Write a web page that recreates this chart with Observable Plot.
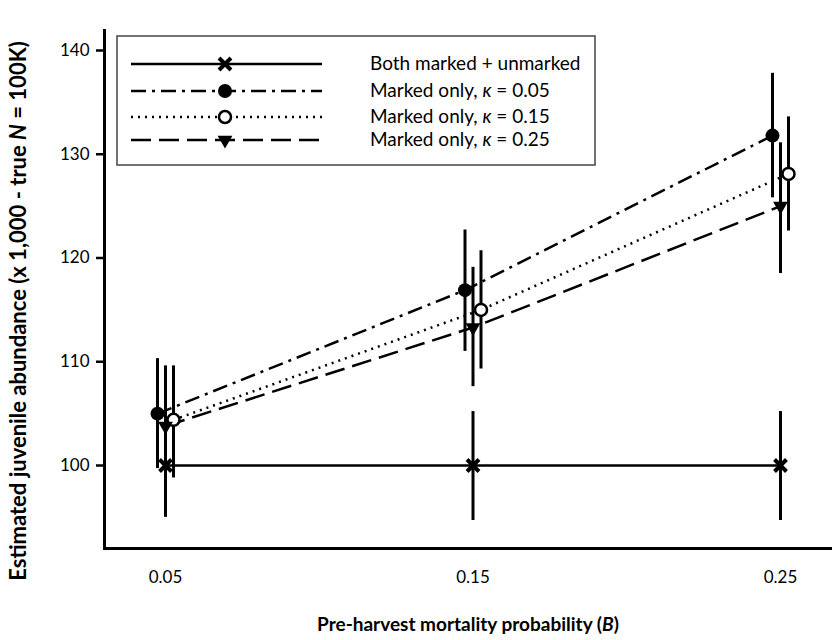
<!DOCTYPE html>
<html>
<head>
<meta charset="utf-8">
<script src="https://cdn.jsdelivr.net/npm/d3@7"></script>
<script src="https://cdn.jsdelivr.net/npm/@observablehq/plot@0.6"></script>
<style>
  html, body { margin: 0; padding: 0; background: #fff; }
  #chart svg { display: block; }
  #chart svg g[aria-label="x-axis tick label"] text,
  #chart svg g[aria-label="y-axis tick label"] text { font-size: 17px; }
</style>
</head>
<body>
<div id="chart"></div>
<script>
// ---- data ----
const B = [0.05, 0.15, 0.25];
const seriesLabels = ["Both marked + unmarked", "Marked only, κ = 0.05", "Marked only, κ = 0.15", "Marked only, κ = 0.25"];
const meanBoth = [100.0, 100.0, 100.0];
const loBoth   = [95.0, 94.7, 94.7];
const hiBoth   = [105.0, 105.2, 105.2];
const meanK05 = [105.0, 116.9, 131.8];
const loK05   = [99.7, 111.0, 125.8];
const hiK05   = [110.3, 122.7, 137.8];
const meanK15 = [104.4, 115.0, 128.1];
const loK15   = [98.8, 109.3, 122.6];
const hiK15   = [109.6, 120.7, 133.6];
const meanK25 = [103.8, 113.3, 125.0];
const loK25   = [98.2, 107.6, 118.5];
const hiK25   = [109.6, 119.1, 131.1];
const yTicks = [100, 110, 120, 130, 140];
const xTickLabels = ["0.05", "0.15", "0.25"];

// ---- styles ----
const FONT = "Lato, 'Open Sans', sans-serif";
const styles = [
  {mean: meanBoth, lo: loBoth, hi: hiBoth, dx: 0, dash: null, symbol: "times", r: 5.5, fill: "none", stroke: "black", sw: 4, rotate: 0},
  {mean: meanK05, lo: loK05, hi: hiK05, dx: -8, dash: "15,6,3,6", symbol: "circle", r: 7, fill: "black", stroke: "none", sw: 0, rotate: 0},
  {mean: meanK15, lo: loK15, hi: hiK15, dx: 8, dash: "2,5", symbol: "circle", r: 6, fill: "white", stroke: "black", sw: 2.5, rotate: 0},
  {mean: meanK25, lo: loK25, hi: hiK25, dx: 0, dash: "20,8", symbol: "triangle", r: 5.5, fill: "black", stroke: "none", sw: 0, rotate: 180}
];

const tables = styles.map((s, k) => B.map((b, i) => ({B: b, mean: s.mean[i], lo: s.lo[i], hi: s.hi[i], series: seriesLabels[k]})));

const rules = [], lines = [], dots = [];
styles.forEach((s, k) => {
  const data = tables[k];
  rules.push(Plot.ruleX(data, {x: "B", y1: "lo", y2: "hi", dx: s.dx, stroke: "black", strokeWidth: 3}));
  lines.push(Plot.line(data, {x: "B", y: "mean", dx: s.dx, stroke: "black", strokeWidth: 2.5, strokeDasharray: s.dash || undefined, strokeLinecap: "butt"}));
  dots.push(Plot.dot(data, {x: "B", y: "mean", dx: s.dx, symbol: s.symbol, r: s.r, fill: s.fill, stroke: s.stroke, strokeWidth: s.sw, rotate: s.rotate}));
});

const W = 832, H = 640;
const mL = 104, mR = 0, mT = 30, mB = 92;
const pxPerUnit = (780 - 165) / 0.2;
const xDomain = [0.05 - (165 - mL) / pxPerUnit, 0.25 + (W - mR - 780) / pxPerUnit];
const pxPerY = (465 - 50) / 40;
const yDomain = [100 - (H - mB - 465) / pxPerY, 100 + (465 - mT) / pxPerY];

const chart = Plot.plot({
  width: W, height: H,
  marginLeft: mL, marginRight: mR, marginTop: mT, marginBottom: mB,
  style: {fontFamily: FONT, fontSize: "17px", color: "black", background: "white"},
  x: {domain: xDomain},
  y: {domain: yDomain},
  marks: [
    Plot.axisX({ticks: B, tickFormat: (d, i) => xTickLabels[i], tickSize: 0, tickPadding: 22, label: null, fontSize: 17}),
    Plot.axisY({ticks: yTicks, tickSize: 8, tickPadding: 7, label: null, fontSize: 17, strokeWidth: 2.5}),
    ...rules,
    ...lines,
    ...dots,
    Plot.frame({anchor: "left", stroke: "black", strokeWidth: 3}),
    Plot.frame({anchor: "bottom", stroke: "black", strokeWidth: 3})
  ]
});

const svg = d3.select(chart);
svg.selectAll("g[aria-label='x-axis tick label'], g[aria-label='y-axis tick label']")
  .attr("font-size", 17).style("font-size", "17px");

// axis titles with italic parts
const yt = svg.append("text")
  .attr("transform", "translate(26,311) rotate(-90)")
  .attr("text-anchor", "middle")
  .style("font-family", FONT)
  .style("font-size", "22px").style("font-weight", "bold");
yt.append("tspan").text("Estimated juvenile abundance (x 1,000 - true ");
yt.append("tspan").style("font-style", "italic").text("N");
yt.append("tspan").text(" = 100K)");

const xt = svg.append("text")
  .attr("x", 468).attr("y", 631)
  .attr("text-anchor", "middle")
  .style("font-family", FONT)
  .style("font-size", "19px").style("font-weight", "bold");
xt.append("tspan").text("Pre-harvest mortality probability (");
xt.append("tspan").style("font-style", "italic").text("B");
xt.append("tspan").text(")");

// legend
const lg = svg.append("g");
lg.append("rect").attr("x", 117).attr("y", 36).attr("width", 478).attr("height", 129)
  .attr("fill", "white").attr("stroke", "#444").attr("stroke-width", 1.5);
const rowY = [64, 91, 117, 140];
styles.forEach((s, k) => {
  const y = rowY[k];
  lg.append("line").attr("x1", 131).attr("x2", 322).attr("y1", y).attr("y2", y)
    .attr("stroke", "black").attr("stroke-width", 2.5)
    .attr("stroke-dasharray", s.dash || null);
  const symType = {times: d3.symbolTimes, circle: d3.symbolCircle, triangle: d3.symbolTriangle}[s.symbol];
  lg.append("path")
    .attr("d", d3.symbol(symType, Math.PI * s.r * s.r)())
    .attr("transform", `translate(225,${y}) rotate(${s.rotate})`)
    .attr("fill", s.fill).attr("stroke", s.stroke).attr("stroke-width", s.sw);
  const t = lg.append("text").attr("x", 370).attr("y", y + 6)
    .attr("text-anchor", "start")
    .style("font-family", FONT).style("font-size", "19px");
  const label = seriesLabels[k];
  const idx = label.indexOf("κ");
  if (idx < 0) {
    t.text(label);
  } else {
    t.append("tspan").text(label.slice(0, idx));
    t.append("tspan").style("font-style", "italic").text("κ");
    t.append("tspan").text(label.slice(idx + 1));
  }
});

document.getElementById("chart").appendChild(chart);
</script>
</body>
</html>
